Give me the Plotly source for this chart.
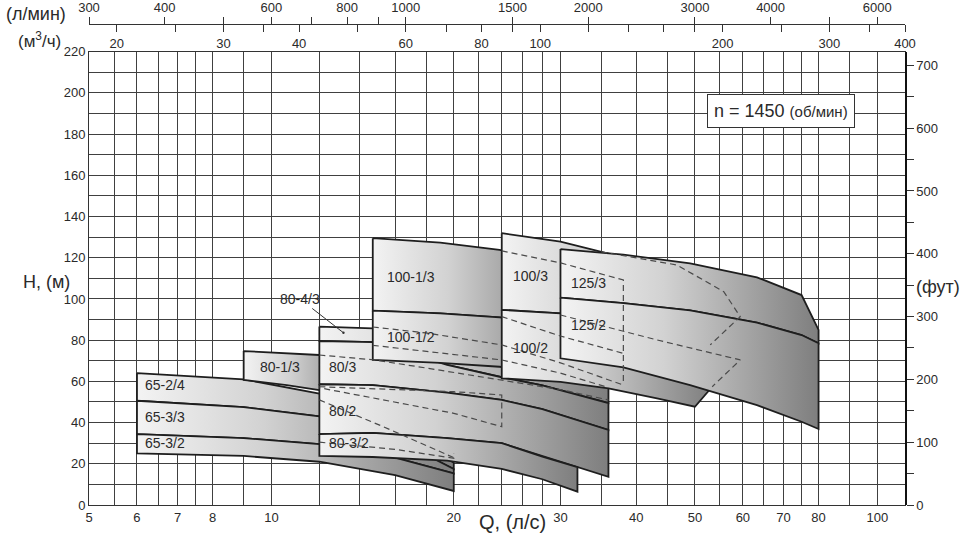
import numpy as np
import plotly.graph_objects as go

# --- оси ---
x_grid = [5, 5.5, 6, 6.5, 7, 7.5, 8, 9, 10, 12, 14, 16, 18, 20, 22, 24, 26, 28, 30,
          35, 40, 45, 50, 55, 60, 65, 70, 75, 80, 90, 100]
x_labeled = [5, 6, 7, 8, 10, 20, 30, 40, 50, 60, 70, 80, 100]
lpm_ticks = [300, 400, 500, 600, 700, 800, 900, 1000, 1500, 2000, 3000, 4000, 5000, 6000]
lpm_labeled = [300, 400, 600, 800, 1000, 1500, 2000, 3000, 4000, 6000]
m3h_ticks = [20, 25, 30, 35, 40, 50, 60, 70, 80, 90, 100, 120, 140, 160, 180, 200, 250, 300, 350, 400]
m3h_labeled = [20, 30, 40, 60, 80, 100, 200, 300, 400]
ft_ticks = list(range(0, 701, 50))

# --- кривые Q (л/с), H (м) ---
q65 = [6, 9, 12, 16, 20]
h65_top = [64.0, 61.0, 54.0, 39.0, 20.5]
h65_d1 = [50.6, 47.5, 43.0, 32.0, 17.5]
h65_d2 = [34.4, 32.5, 29.5, 23.0, 15.3]
h65_bot = [25.1, 23.8, 21.0, 14.5, 6.8]

q8013 = [9, 10.6, 12, 14]
h8013_top = [74.7, 73.8, 72.8, 70.5]
h8013_bot = [60.7, 58.2, 55.8, 52.0]

q80 = [12, 14.7, 19.5, 24, 28, 32, 36]
h80_top = [86.6, 85.7, 82.0, 78.0, 72.0, 64.0, 57.0]
h80_d1 = [79.6, 79.0, 68.0, 62.0, 58.0, 53.5, 49.5]
h80_d2 = [58.6, 58.2, 54.5, 51.0, 46.5, 41.3, 36.4]
h80_d3 = [34.4, 35.0, 32.5, 30.0, 23.5, 18.4, 13.7]
h80_bot = [23.8, 23.3, 21.5, 17.5, 12.5, 6.5]

q1001 = [14.7, 19, 23.8, 30]
h1001_top = [129.5, 127.3, 123.8, 118.0]
h1001_d1 = [94.3, 93.0, 91.1, 88.0]
h1001_bot = [70.4, 69.0, 67.1, 64.0]

q100 = [24, 30, 36, 43.3, 50, 53.4]
h100_top = [131.9, 127.8, 122.0, 116.5, 110.0, 106.0]
h100_d1 = [94.7, 93.0, 90.0, 85.0, 79.0, 76.0]
h100_bot = [61.5, 59.8, 56.6, 51.8, 47.7, 57.4]

q125 = [30, 38.1, 49.1, 63.3, 75, 80]
h125_top = [124.2, 121.5, 117.3, 110.5, 101.9, 85.0]
h125_d1 = [100.6, 98.0, 94.5, 88.5, 82.5, 78.5]
h125_bot = [71.2, 66.8, 58.2, 48.5, 40.4, 36.9]

# --- пунктирные линии ---
dashed = [
    ([12, 14.7, 18, 24, 30, 36], [72.8, 70.5, 66.5, 60.5, 56.0, 51.0]),
    ([12, 14.5, 20, 24, 24, 20, 16, 12], [57.4, 56.5, 55.0, 53.4, 38.0, 44.5, 50.0, 56.9]),
    ([12, 15.3, 20], [51.0, 38.0, 23.0]),
    ([12, 16, 20, 20], [30.5, 27.0, 22.7, 25.0]),
    ([14.7, 18, 24, 30, 38.1], [86.4, 83.5, 77.7, 69.0, 58.2]),
    ([14.7, 18, 24, 30, 36], [77.5, 74.5, 70.4, 64.0, 57.0]),
    ([24, 30, 38.1, 38.1], [123.3, 117.5, 109.2, 58.2]),
    ([24, 30, 38.1], [91.4, 82.0, 73.6]),
    ([35, 46.7, 55.8, 59.4, 53], [122.9, 116.5, 103.5, 91.4, 77.7]),
    ([30, 43.3, 59.4, 53.4], [92.2, 80.1, 70.4, 57.4]),
]

# --- подписи ---
labels = ["65-2/4", "65-3/3", "65-3/2", "80-1/3", "80/3", "80/2", "80-3/2",
          "100-1/3", "100-1/2", "100/3", "100/2", "125/3", "125/2"]
label_q = [6.15, 6.15, 6.15, 9.5, 12.35, 12.35, 12.35, 15.4, 15.4, 24.85, 24.85, 31.0, 31.0]
label_h = [58.2, 42.7, 30.1, 67.0, 67.0, 45.6, 30.2, 110.5, 81.4, 111.1, 76.0, 107.6, 87.4]

GRAD = [[0, '#f3f3f3'], [0.4, '#d2d2d2'], [1, '#7e7e7e']]
FONT = 'Liberation Sans, Arial, sans-serif'
TXT = '#2a2a2a'

fig = go.Figure()


def band(q, h_top, h_bot):
    xs = list(q) + list(q[::-1]) + [q[0]]
    ys = list(h_top) + list(h_bot[::-1]) + [h_top[0]]
    fig.add_trace(go.Scatter(
        x=xs, y=ys, mode='lines', fill='toself',
        fillgradient=dict(type='horizontal', colorscale=GRAD),
        line=dict(color='#1e1e1e', width=1.8),
        hoverinfo='skip', showlegend=False))


# семейство 65
band(q65, h65_top, h65_d1)
band(q65, h65_d1, h65_d2)
band(q65, h65_d2, h65_bot)
# 80-1/3
band(q8013, h8013_top, h8013_bot)
# семейство 80
band(q80, h80_top, h80_d1)
band(q80, h80_d1, h80_d2)
band(q80, h80_d2, h80_d3)
band(q80[:6], h80_d3[:6], h80_bot)
# семейство 100-1
band(q1001, h1001_top, h1001_d1)
band(q1001, h1001_d1, h1001_bot)
# семейство 100
band(q100, h100_top, h100_d1)
band(q100, h100_d1, h100_bot)
# семейство 125
band(q125, h125_top, h125_d1)
band(q125, h125_d1, h125_bot)

for dq, dh in dashed:
    fig.add_trace(go.Scatter(x=dq, y=dh, mode='lines',
                             line=dict(color='#4a4a4a', width=1.2, dash='6px,4px'),
                             hoverinfo='skip', showlegend=False))

# пустые трассы, чтобы вывести дополнительные оси
fig.add_trace(go.Scatter(x=[], y=[], xaxis='x2', yaxis='y', showlegend=False))
fig.add_trace(go.Scatter(x=[], y=[], xaxis='x3', yaxis='y', showlegend=False))
fig.add_trace(go.Scatter(x=[], y=[], xaxis='x', yaxis='y2', showlegend=False))

for t, q, h in zip(labels, label_q, label_h):
    fig.add_annotation(x=np.log10(q), y=h, xref='x', yref='y', text=t, showarrow=False,
                       xanchor='left', font=dict(family=FONT, size=14, color=TXT))

fig.add_annotation(x=np.log10(13.15), y=83.6, xref='x', yref='y', text='80-4/3',
                   showarrow=True, axref='x', ayref='y', ax=np.log10(11.15), ay=100,
                   arrowhead=6, arrowsize=0.6, arrowwidth=1, arrowcolor='#333',
                   font=dict(family=FONT, size=14, color=TXT))


def px_x(p):
    return (p - 89) / 816


def px_y(p):
    return (505 - p) / 500


def paper_text(px, py, text, size, **kw):
    fig.add_annotation(x=px_x(px), y=px_y(py), xref='paper', yref='paper', text=text,
                       xanchor='center', yanchor='middle', showarrow=False,
                       font=dict(family=FONT, size=size, color=TXT), **kw)


paper_text(36, 14, '(л/мин)', 18)
paper_text(39, 40, '(м<sup>3</sup>/ч)', 17)
paper_text(46, 282, 'H, (м)', 18)
paper_text(938, 287, '(фут)', 18)
paper_text(512, 522, 'Q, (л/с)', 20)
paper_text(781, 111, "n = 1450 <span style='font-size:15px'>(об/мин)</span>", 18,
           bgcolor='white', bordercolor='#333', borderwidth=1, borderpad=6)

tickfont = dict(family=FONT, size=13, color=TXT)
top_pos = px_y(24)
q_max = 400 / 3.6

fig.update_layout(
    width=964, height=536,
    margin=dict(l=89, r=59, t=5, b=31, autoexpand=False),
    paper_bgcolor='white', plot_bgcolor='white',
    showlegend=False,
    xaxis=dict(type='log', range=[np.log10(5), np.log10(q_max)],
               tickvals=x_grid,
               ticktext=[str(v) if v in x_labeled else '' for v in x_grid],
               showgrid=True, gridcolor='#404040', gridwidth=1,
               showline=True, linecolor='#333', linewidth=1, mirror=True,
               ticks='', tickfont=tickfont, zeroline=False, automargin=False),
    xaxis2=dict(type='log', range=[np.log10(300), np.log10(q_max * 60)],
                overlaying='x', side='top', anchor='free', position=top_pos,
                tickvals=lpm_ticks,
                ticktext=[str(v) if v in lpm_labeled else '' for v in lpm_ticks],
                ticks='outside', ticklen=7, tickcolor='#333',
                showline=True, linecolor='#333', linewidth=1,
                showgrid=False, tickfont=tickfont, automargin=False),
    xaxis3=dict(type='log', range=[np.log10(18), np.log10(400)],
                overlaying='x', side='bottom', anchor='free', position=top_pos,
                tickvals=m3h_ticks,
                ticktext=[str(v) if v in m3h_labeled else '' for v in m3h_ticks],
                ticks='outside', ticklen=7, tickcolor='#333',
                showline=False, showgrid=False, tickfont=tickfont, automargin=False),
    yaxis=dict(range=[0, 220], domain=[0, px_y(51.7)],
               tickvals=list(range(0, 221, 10)),
               ticktext=[str(v) if v % 20 == 0 else '' for v in range(0, 221, 10)],
               showgrid=True, gridcolor='#404040', gridwidth=1,
               showline=True, linecolor='#333', linewidth=1, mirror=True,
               ticks='', tickfont=tickfont, zeroline=False, automargin=False),
    yaxis2=dict(range=[0, 220 * 3.28084], overlaying='y', side='right', anchor='x',
                tickvals=ft_ticks,
                ticktext=[str(v) if v % 100 == 0 else '' for v in ft_ticks],
                ticks='outside', ticklen=7, tickcolor='#333',
                showline=True, linecolor='#111', linewidth=1.5,
                showgrid=False, zeroline=False, tickfont=tickfont, automargin=False),
)

# убрать стандартный отступ страницы, чтобы график лёг ровно в окно
fig.write_html("out.html", config={'displayModeBar': False},
               post_script="document.body.style.margin='0';")
